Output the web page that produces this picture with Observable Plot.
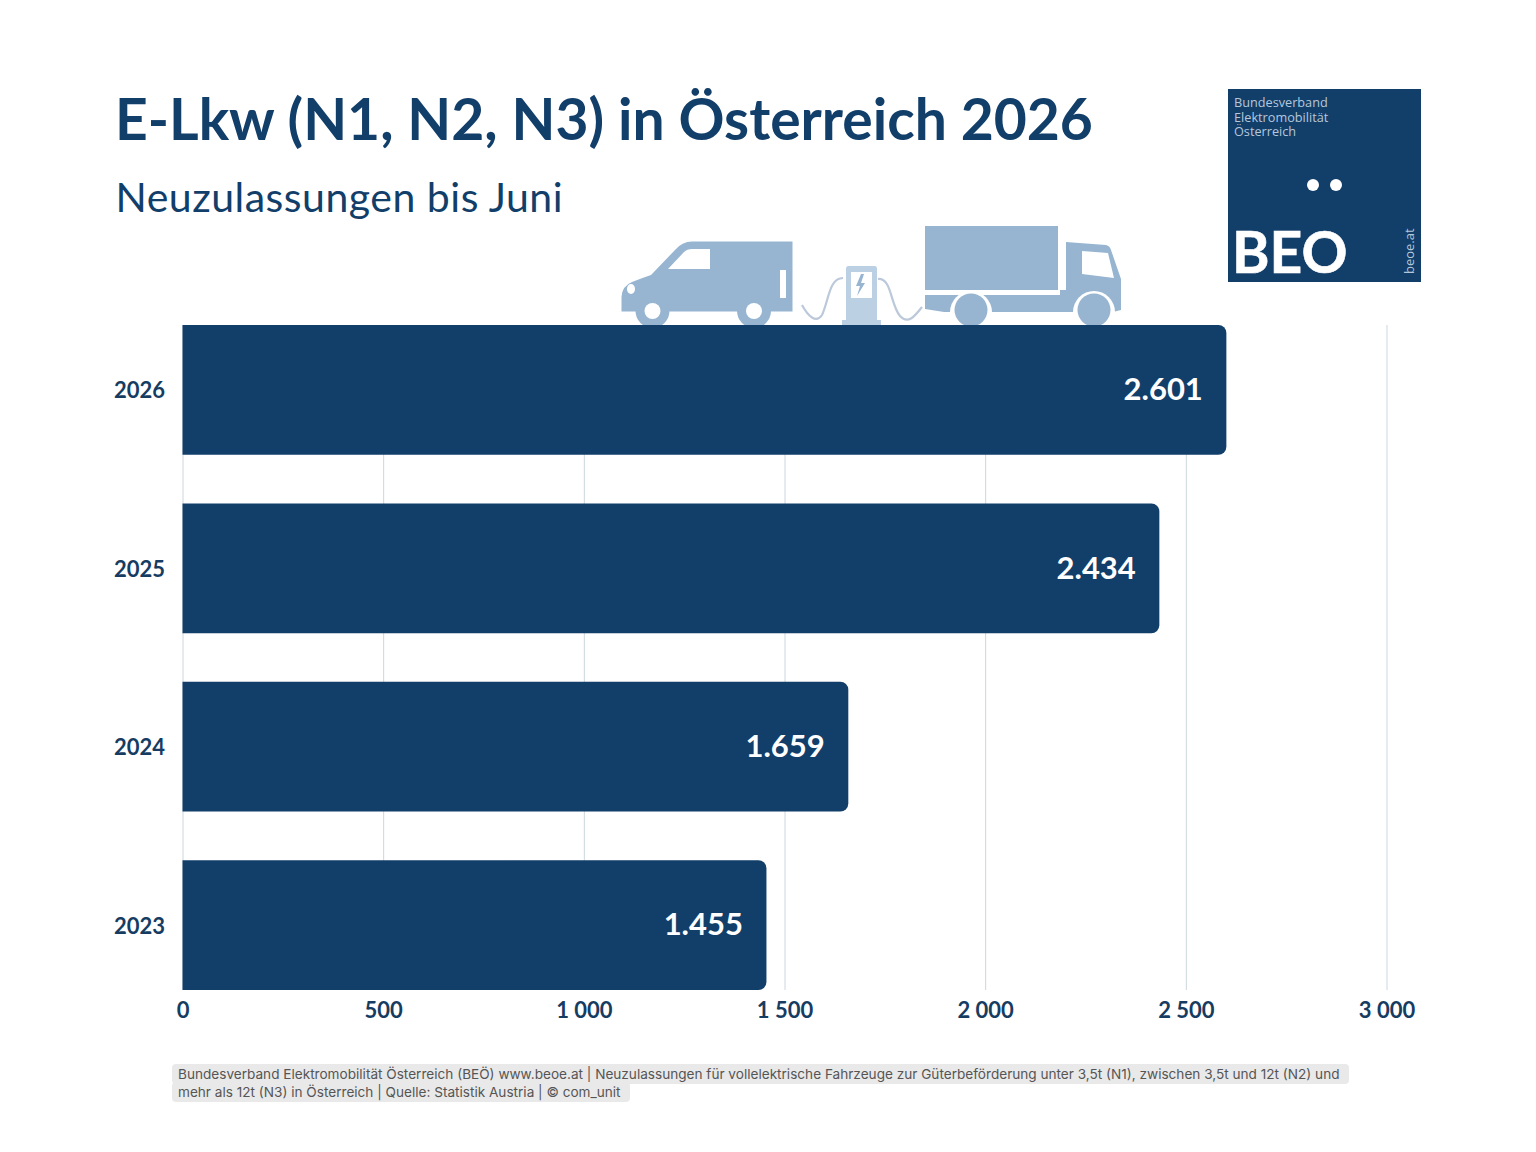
<!DOCTYPE html>
<html><head><meta charset="utf-8">
<script src="https://cdn.jsdelivr.net/npm/d3@7"></script>
<script src="https://cdn.jsdelivr.net/npm/@observablehq/plot@0.6"></script>
<style>
html,body{margin:0;padding:0;background:#fff;}
#page{position:relative;width:1536px;height:1152px;overflow:hidden;font-family:Lato,sans-serif;color:#123e6a;}
#title{position:absolute;left:115px;top:83px;font-size:57px;font-weight:700;line-height:70px;white-space:nowrap;}
#sub{position:absolute;left:115.500px;top:171px;font-size:41px;letter-spacing:0.5px;font-weight:400;line-height:52px;white-space:nowrap;}
#icons{position:absolute;left:0;top:0;}
#chart{position:absolute;left:0;top:300px;}
#logo{position:absolute;left:1228px;top:89px;width:193px;height:193px;background:#123e6a;}
#logo .org{position:absolute;left:6px;top:6px;font:12.700px/14.500px "Open Sans",sans-serif;color:#b4c8dc;white-space:nowrap;}
#logo .dot{position:absolute;top:90px;width:12px;height:12px;border-radius:50%;background:#fff;}
#logo .beo{position:absolute;left:4px;top:133px;font:700 57px/58px Lato,sans-serif;color:#fff;-webkit-text-stroke:0.6px #fff;}
#logo .url{position:absolute;left:174px;top:185px;font:13px/14px "Open Sans",sans-serif;color:#b4c8dc;transform-origin:0 0;transform:rotate(-90deg);white-space:nowrap;}
#foot{position:absolute;left:172px;top:1065px;font:13.600px/18px Inter,sans-serif;color:#555;white-space:nowrap;}
#foot span{background:#e9e9e9;padding:2px 9px 2px 6px;border-radius:4px;}
</style></head><body>
<div id="page">
<div id="title"></div><div id="sub"></div>
<svg id="icons" width="1536" height="1152" viewBox="0 0 1536 1152">
  <g fill="#97b5d1">
    <path d="M792.500 241.500V311.500H621.500V297Q622 286 632 282Q642 278 651 275L675 250Q682 241.500 692 241.500Z"/>
    <circle cx="652.500" cy="311" r="17"/><circle cx="754" cy="311" r="17"/>
    <path d="M925 226H1058V290H925Z"/>
    <path d="M925 295H1060V290H1066V242L1106 245Q1110 246 1111 250L1121 279V310L1113 312H944L925 309Z"/>
  </g>
  <g fill="#fff">
    <circle cx="652.500" cy="311" r="8"/><circle cx="754" cy="311" r="8"/>
    <path d="M710 249V269H668L684 252Q687 249 692 249Z"/>
    <path d="M780 270H786V298H780Z"/>
    <ellipse cx="631" cy="289" rx="4" ry="5"/>
    <path d="M1082 251L1108 253L1114 278L1082 274Z"/>
    <circle cx="971" cy="312" r="21"/><circle cx="1094" cy="312" r="21"/>
  </g>
  <circle cx="971" cy="310" r="16.500" fill="#97b5d1"/><circle cx="1094" cy="310" r="16.500" fill="#97b5d1"/>
  <path d="M846 268.500Q846 266 848 266H875Q877 266 877 268.500V320H881V326H842V320H846Z" fill="#bcd0e4"/>
  <path d="M851 272H872V298H851Z" fill="#fff"/>
  <path d="M861 274L856 286H860L857 296L865 283H861L864 274Z" fill="#97b5d1"/>
  <path d="M802 305C808 316 816 324 822 315C829 300 829 278 843 278M878 279C892 278 890 304 900 316C908 325 915 316 922 307" fill="none" stroke="#bcc9da" stroke-width="2.200"/>
</svg>
<div id="chart"></div>
<div id="logo">
  <div class="org">Bundesverband<br>Elektromobilität<br>Österreich</div>
  <div class="dot" style="left:79px"></div><div class="dot" style="left:102px"></div>
  <div class="beo">BEO</div>
  <div class="url">beoe.at</div>
</div>
<div id="foot"></div>
</div>
<script>
const titleText = "E-Lkw (N1, N2, N3) in Österreich 2026";
const subtitleText = "Neuzulassungen bis Juni";
const footLines = [
  "Bundesverband Elektromobilität Österreich (BEÖ) www.beoe.at | Neuzulassungen für vollelektrische Fahrzeuge zur Güterbeförderung unter 3,5t (N1), zwischen 3,5t und 12t (N2) und",
  "mehr als 12t (N3) in Österreich | Quelle: Statistik Austria | © com_unit"
];
const years = ["2026", "2025", "2024", "2023"];
const registrations = [2601, 2434, 1659, 1455];
const xTicks = [0, 500, 1000, 1500, 2000, 2500, 3000];
const xTickLabels = ["0", "500", "1 000", "1 500", "2 000", "2 500", "3 000"];

document.getElementById("title").textContent = titleText;
document.getElementById("sub").textContent = subtitleText;
const foot = document.getElementById("foot");
footLines.forEach((t, i) => {
  const s = document.createElement("span"); s.textContent = t; foot.appendChild(s);
  if (i < footLines.length - 1) foot.appendChild(document.createElement("br"));
});

const rows = years.map((y, i) => ({year: y, value: registrations[i]}));
const navy = "#123e6a";
const axisInk = "#173c62";
const labelFormat = v => d3.format(",")(v).replace(",", ".");

const chart = Plot.plot({
  width: 1536, height: 740,
  marginLeft: 182.5, marginRight: 149.5, marginTop: 25, marginBottom: 50,
  style: {background: "transparent", fontFamily: "Lato, sans-serif", overflow: "visible"},
  x: {domain: [0, 3000], ticks: xTicks},
  y: {domain: years, paddingInner: 0.272, paddingOuter: 0, round: false},
  marks: [
    Plot.gridX(xTicks, {stroke: "#cbd7dc", strokeOpacity: 1, strokeWidth: 1}),
    Plot.barX(rows, {x: "value", y: "year", fill: navy, rx2: 8}),
    Plot.text(rows, {x: "value", y: "year", text: d => labelFormat(d.value), textAnchor: "end", dx: -24, fill: "#fff", fontSize: 31, fontWeight: 700}),
    Plot.axisY({tickSize: 0, tickPadding: 18, dy: 1, fontSize: 22, fontWeight: 700, fill: axisInk, label: null}),
    Plot.axisX({ticks: xTicks, tickFormat: (d, i) => xTickLabels[xTicks.indexOf(d)], tickSize: 0, tickPadding: 12, fontSize: 22, fontWeight: 700, fill: axisInk, label: null})
  ]
});
document.getElementById("chart").appendChild(chart);
</script>
</body></html>
